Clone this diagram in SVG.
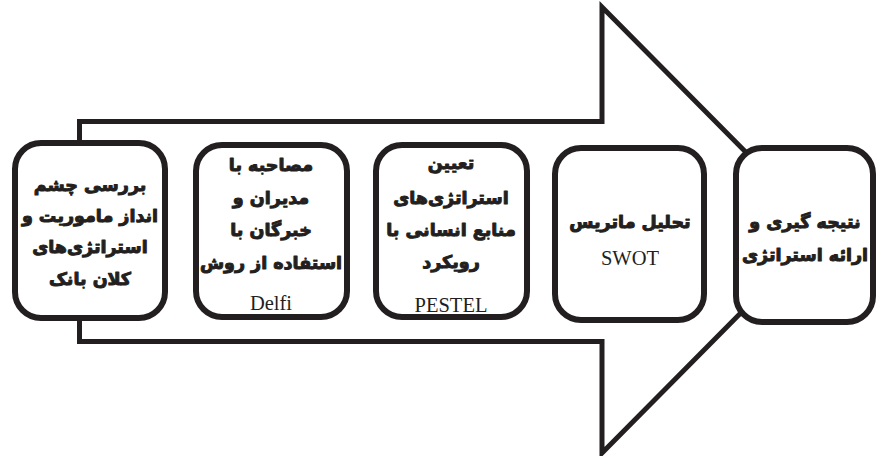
<svg xmlns="http://www.w3.org/2000/svg" width="877" height="456" viewBox="0 0 877 456">
<style>
.arrow{fill:#fff;stroke:#231f20;stroke-width:5;stroke-linejoin:miter;stroke-miterlimit:10}
.box{fill:#fff;stroke:#231f20;stroke-width:6}
.fa{font-family:"DejaVu Sans",sans-serif;font-weight:bold;font-size:17.5px;fill:#231f20;stroke:#231f20;stroke-width:1;stroke-linejoin:round;text-anchor:middle;direction:rtl}
.en{font-family:"Liberation Serif",serif;font-size:20.5px;fill:#231f20;text-anchor:middle}
</style>
<rect width="877" height="456" fill="#fff"/>
<g id="connectors">
<path class="arrow" d="M79.5 121.5 H602 V7 L823 230 L602 453 V341.5 H79.5 Z"/>
</g>
<g id="node1">
<rect class="box" x="15" y="143" width="150" height="175" rx="26"/>
<text class="fa" x="90" y="191">بررسی چشم</text>
<text class="fa" x="90" y="222">انداز ماموریت و</text>
<text class="fa" x="90" y="253">استراتژی‌های</text>
<text class="fa" x="90" y="285">کلان بانک</text>
</g>
<g id="node2">
<rect class="box" x="196" y="145" width="151" height="172" rx="26"/>
<text class="fa" x="271" y="171">مصاحبه با</text>
<text class="fa" x="271" y="204">مدیران و</text>
<text class="fa" x="271" y="236">خبرگان با</text>
<text class="fa" x="271" y="269">استفاده از روش</text>
<text class="en" x="271" y="310">Delfi</text>
</g>
<g id="node3">
<rect class="box" x="376" y="145" width="151" height="172" rx="26"/>
<text class="fa" x="451" y="169">تعیین</text>
<text class="fa" x="451" y="204">استراتژی‌های</text>
<text class="fa" x="451" y="236">منابع انسانی با</text>
<text class="fa" x="451" y="268">رویکرد</text>
<text class="en" x="451" y="312">PESTEL</text>
</g>
<g id="node4">
<rect class="box" x="555" y="148" width="149" height="172" rx="26"/>
<text class="fa" x="630" y="228">تحلیل ماتریس</text>
<text class="en" x="630" y="265">SWOT</text>
</g>
<g id="node5">
<rect class="box" x="736" y="148" width="137" height="174" rx="26"/>
<text class="fa" x="805" y="228">نتیجه گیری و</text>
<text class="fa" x="805" y="261">ارائه استراتژی</text>
</g>
</svg>
